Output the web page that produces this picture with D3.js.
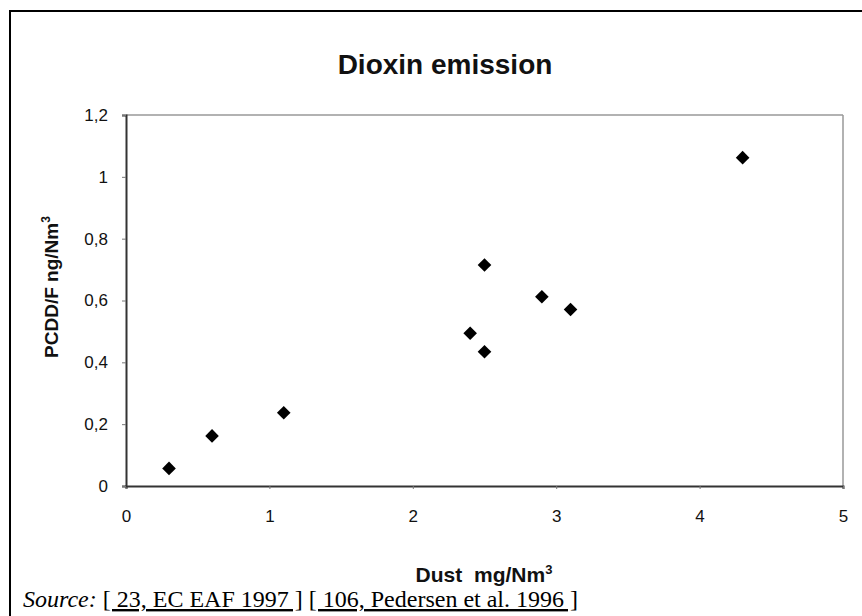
<!DOCTYPE html>
<html><head><meta charset="utf-8">
<script src="https://cdn.jsdelivr.net/npm/d3@7"></script>
<style>
html,body{margin:0;padding:0;background:#fff;}
svg{display:block;}
</style></head>
<body>
<script>
const dustValues = [0.3, 0.6, 1.1, 2.4, 2.5, 2.5, 2.9, 3.1, 4.3];
const dioxinValues = [0.057, 0.162, 0.237, 0.494, 0.715, 0.434, 0.612, 0.571, 1.062];
const xTicks = [0, 1, 2, 3, 4, 5];
const yTicks = [0, 0.2, 0.4, 0.6, 0.8, 1, 1.2];
const yTickLabels = ["0", "0,2", "0,4", "0,6", "0,8", "1", "1,2"];

const W = 862, H = 616;
const FONT = "Liberation Sans, Arial, sans-serif";
const svg = d3.select("body").append("svg").attr("width", W).attr("height", H);
svg.append("rect").attr("width", W).attr("height", H).attr("fill", "#fff");

// outer frame (top and left visible)
svg.append("line").attr("x1", 9).attr("y1", 11).attr("x2", W).attr("y2", 11).attr("stroke", "#000").attr("stroke-width", 2);
svg.append("line").attr("x1", 10).attr("y1", 10).attr("x2", 10).attr("y2", H).attr("stroke", "#000").attr("stroke-width", 2);

const L = 126, R = 843, T = 115, B = 486;
const x = d3.scaleLinear().domain([0, 5]).range([L, R]);
const y = d3.scaleLinear().domain([0, 1.2]).range([B, T]);

// plot frame top/right lighter
svg.append("line").attr("x1", L).attr("y1", T).attr("x2", R).attr("y2", T).attr("stroke", "#999").attr("stroke-width", 1.5);
svg.append("line").attr("x1", R).attr("y1", T).attr("x2", R).attr("y2", B).attr("stroke", "#999").attr("stroke-width", 1.5);

const xAxis = svg.append("g").attr("transform", `translate(0,${B})`)
  .call(d3.axisBottom(x).tickValues(xTicks).tickSize(3).tickPadding(21).tickFormat(d3.format("d")));
const yAxis = svg.append("g").attr("transform", `translate(${L},0)`)
  .call(d3.axisLeft(y).tickValues(yTicks).tickSize(4).tickPadding(14).tickFormat((d, i) => yTickLabels[i]));
[xAxis, yAxis].forEach(g => {
  g.select(".domain").attr("stroke", "#333").attr("stroke-width", 2);
  g.selectAll(".tick line").attr("stroke", "#777");
  g.selectAll("text").attr("font-family", FONT).attr("font-size", 17).attr("fill", "#111");
});

// points
const pts = dustValues.map((d, i) => ({ x: d, y: dioxinValues[i] }));
svg.append("g").selectAll("path").data(pts).enter().append("path")
  .attr("d", d3.symbol().type(d3.symbolDiamond2).size(118))
  .attr("transform", d => `translate(${x(d.x)},${y(d.y)})`)
  .attr("fill", "#000");

// title
svg.append("text").attr("x", 445).attr("y", 74).attr("text-anchor", "middle")
  .attr("font-family", FONT).attr("font-weight", "bold").attr("font-size", 28)
  .attr("fill", "#111").text("Dioxin emission");

// x axis label
const xl = svg.append("text").attr("x", 484).attr("y", 582).attr("text-anchor", "middle")
  .attr("font-family", FONT).attr("font-weight", "bold").attr("font-size", 21).attr("fill", "#111");
xl.append("tspan").text("Dust");
xl.append("tspan").attr("dx", 6).text(" mg/Nm");
xl.append("tspan").attr("font-size", 13).attr("dy", -8).text("3");

// y axis label
const yl = svg.append("text").attr("transform", "translate(58,287) rotate(-90)").attr("text-anchor", "middle")
  .attr("font-family", FONT).attr("font-weight", "bold").attr("font-size", 19).attr("fill", "#111");
yl.append("tspan").text("PCDD/F ng/Nm");
yl.append("tspan").attr("font-size", 12).attr("dy", -8).text("3");

// source
const src = svg.append("text").attr("x", 23).attr("y", 607)
  .attr("font-family", "Liberation Serif, Times New Roman, serif").attr("font-size", 24).attr("fill", "#000");
src.append("tspan").attr("font-style", "italic").text("Source:");
src.append("tspan").text(" ");
src.append("tspan").attr("text-decoration", "underline").text("[ 23, EC EAF 1997 ]");
src.append("tspan").text(" ");
src.append("tspan").attr("text-decoration", "underline").text("[ 106, Pedersen et al. 1996 ]");
</script>
</body></html>
